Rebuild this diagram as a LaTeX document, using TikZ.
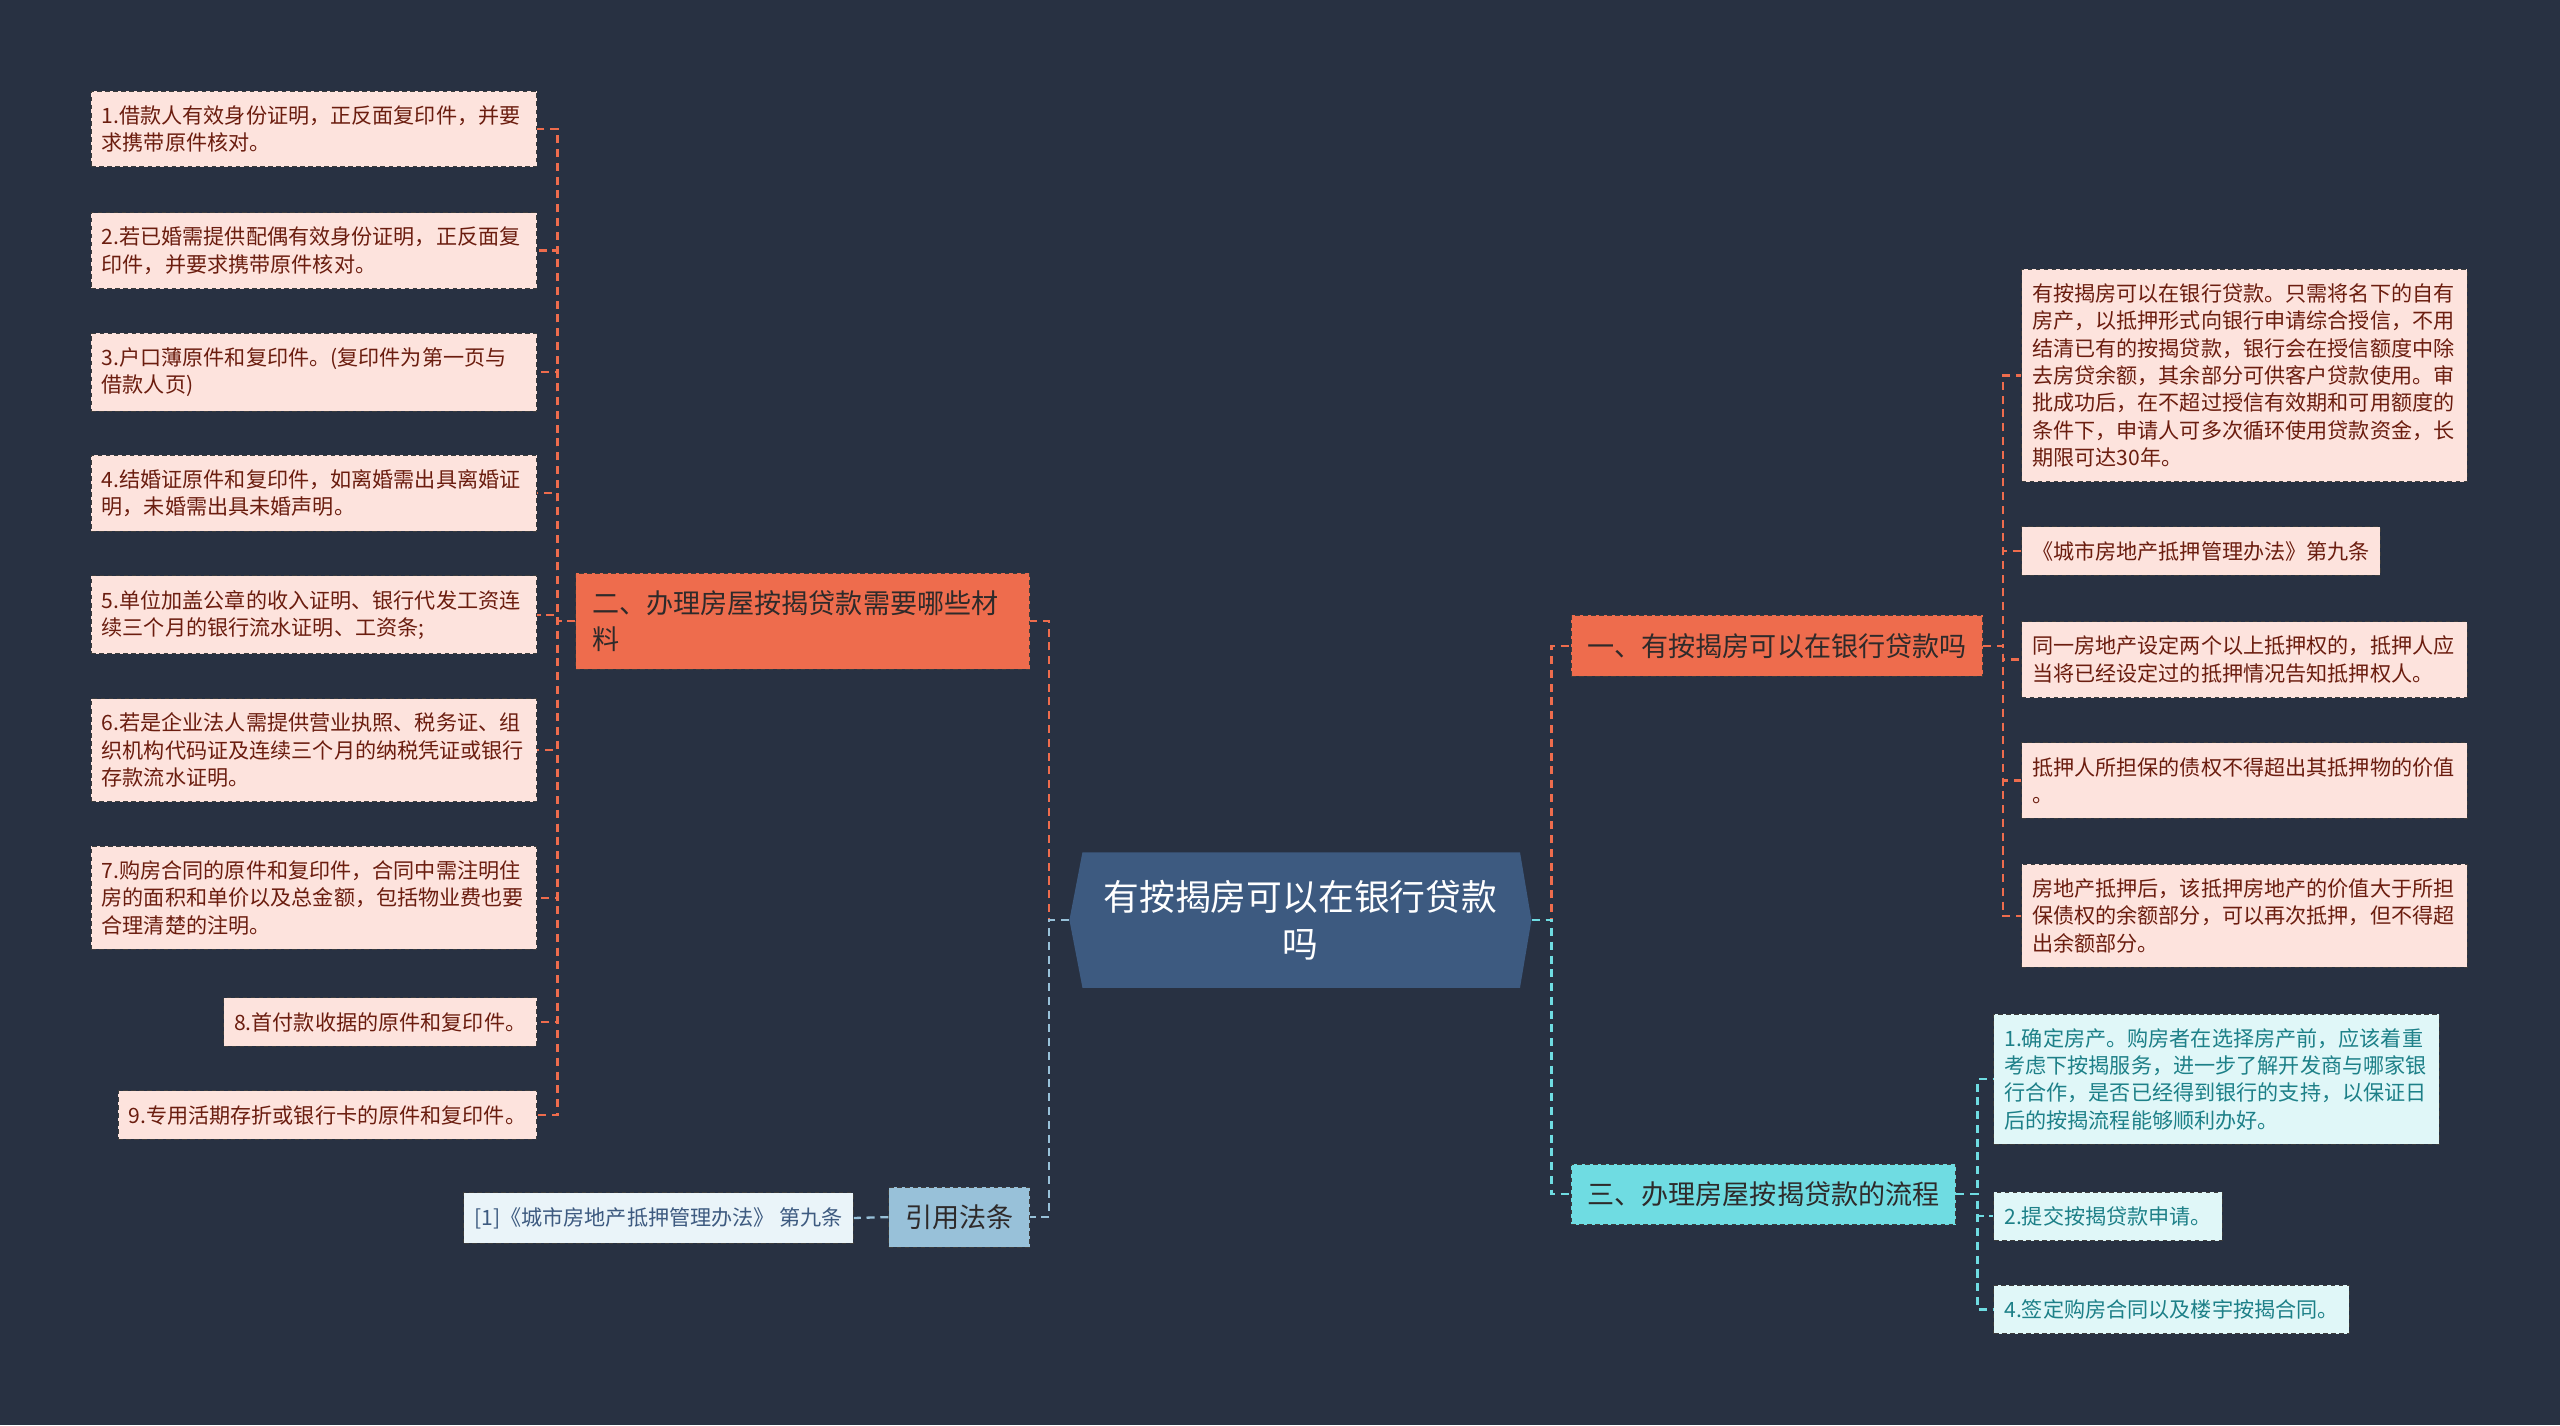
\documentclass[tikz,border=0pt]{standalone}
\usepackage{fontspec}
\newfontfamily\cjk{Noto Sans CJK SC}
\definecolor{bgcol}{HTML}{283142}
\definecolor{rootfill}{HTML}{3D5A80}
\definecolor{orangefill}{HTML}{EE6C4D}
\definecolor{orangepale}{HTML}{FDE3DD}
\definecolor{orangeink}{HTML}{6B1D0F}
\definecolor{bluefill}{HTML}{98C1D9}
\definecolor{bluepale}{HTML}{EAF4F9}
\definecolor{blueink}{HTML}{3D5A80}
\definecolor{cyanfill}{HTML}{6FDCE2}
\definecolor{cyanpale}{HTML}{E0F7F8}
\definecolor{cyanink}{HTML}{1D8088}
\definecolor{darkink}{HTML}{2E2A2A}
\definecolor{boxline}{HTML}{3C3C3C}
\begin{document}
\begin{tikzpicture}[x=0.25mm, y=-0.25mm,
    root/.style={text=white, font=\cjk\fontsize{15.6}{20.6}\selectfont, align=center,
        minimum width=70.75mm, minimum height=20.75mm, inner sep=0pt},
    branch/.style={draw=boxline, dash pattern=on 2pt off 1.5pt, text=darkink,
        font=\cjk\fontsize{11.8}{15.6}\selectfont, align=left, inner xsep=2.5mm, inner ysep=2.7mm},
    leaf/.style={draw=boxline, dash pattern=on 2pt off 1.5pt,
        font=\cjk\fontsize{9.2}{11.9}\selectfont, align=left, inner xsep=1.6mm, inner ysep=2.2mm},
    wide/.style={text width=65mm},
    pinkleaf/.style={leaf, fill=orangepale, text=orangeink},
    blueleaf/.style={leaf, fill=bluepale, text=blueink},
    tealleaf/.style={leaf, fill=cyanpale, text=cyanink},
    link/.style={dash pattern=on 3.5pt off 2.5pt, line width=1pt}
]
\fill[bgcol] (0,0) rectangle (1568,873);
\useasboundingbox (0,0) rectangle (1568,873);

% centre
\fill[rootfill] (655,563.5) -- (663,522) -- (931,522) -- (938,563.5) -- (931,605) -- (663,605) -- cycle;
\node[root] (R) at (796.5,563.5) {有按揭房可以在银行贷款\\吗};

% branches
\node[branch, fill=orangefill, text width=64.5mm, anchor=east] (B2) at (631,380.5) {二、办理房屋按揭贷款需要哪些材\\料};
\node[branch, fill=bluefill, anchor=east] (B4) at (631,745.5) {引用法条};
\node[branch, fill=orangefill, anchor=west] (B1) at (962,395.5) {一、有按揭房可以在银行贷款吗};
\node[branch, fill=cyanfill, anchor=west] (B3) at (962,731.5) {三、办理房屋按揭贷款的流程};

% left leaves
\node[pinkleaf, wide, anchor=east] (L1) at (329,79) {1.借款人有效身份证明，正反面复印件，并要\\求携带原件核对。};
\node[pinkleaf, wide, anchor=east] (L2) at (329,153.5) {2.若已婚需提供配偶有效身份证明，正反面复\\印件，并要求携带原件核对。};
\node[pinkleaf, wide, anchor=east] (L3) at (329,228) {3.户口薄原件和复印件。(复印件为第一页与\\借款人页)};
\node[pinkleaf, wide, anchor=east] (L4) at (329,302) {4.结婚证原件和复印件，如离婚需出具离婚证\\明，未婚需出具未婚声明。};
\node[pinkleaf, wide, anchor=east] (L5) at (329,376.5) {5.单位加盖公章的收入证明、银行代发工资连\\续三个月的银行流水证明、工资条;};
\node[pinkleaf, wide, anchor=east] (L6) at (329,459.5) {6.若是企业法人需提供营业执照、税务证、组\\织机构代码证及连续三个月的纳税凭证或银行\\存款流水证明。};
\node[pinkleaf, wide, anchor=east] (L7) at (329,550) {7.购房合同的原件和复印件，合同中需注明住\\房的面积和单价以及总金额，包括物业费也要\\合理清楚的注明。};
\node[pinkleaf, anchor=east] (L8) at (329,626) {8.首付款收据的原件和复印件。};
\node[pinkleaf, anchor=east] (L9) at (329,683) {9.专用活期存折或银行卡的原件和复印件。};
\node[blueleaf, anchor=east] (Q1) at (523,746) {[1]《城市房地产抵押管理办法》 第九条};

% right leaves
\node[pinkleaf, wide, anchor=west] (R1) at (1238,230) {有按揭房可以在银行贷款。只需将名下的自有\\房产，以抵押形式向银行申请综合授信，不用\\结清已有的按揭贷款，银行会在授信额度中除\\去房贷余额，其余部分可供客户贷款使用。审\\批成功后，在不超过授信有效期和可用额度的\\条件下，申请人可多次循环使用贷款资金，长\\期限可达30年。};
\node[pinkleaf, anchor=west] (R2) at (1238,337.5) {《城市房地产抵押管理办法》第九条};
\node[pinkleaf, wide, anchor=west] (R3) at (1238,404) {同一房地产设定两个以上抵押权的，抵押人应\\当将已经设定过的抵押情况告知抵押权人。};
\node[pinkleaf, wide, anchor=west] (R4) at (1238,478) {抵押人所担保的债权不得超出其抵押物的价值\\。};
\node[pinkleaf, wide, anchor=west] (R5) at (1238,561) {房地产抵押后，该抵押房地产的价值大于所担\\保债权的余额部分，可以再次抵押，但不得超\\出余额部分。};
\node[tealleaf, wide, anchor=west] (C1) at (1221,661) {1.确定房产。购房者在选择房产前，应该着重\\考虑下按揭服务，进一步了解开发商与哪家银\\行合作，是否已经得到银行的支持，以保证日\\后的按揭流程能够顺利办好。};
\node[tealleaf, anchor=west] (C2) at (1221,745) {2.提交按揭贷款申请。};
\node[tealleaf, anchor=west] (C4) at (1221,802) {4.签定购房合同以及楼宇按揭合同。};

% centre links
\draw[link, orangefill] (R.west) -- ++(-12,0) |- (B2.east);
\draw[link, orangefill] (R.east) -- ++(12,0) |- (B1.west);
\draw[link, bluefill] (R.west) -- ++(-12,0) |- (B4.east);
\draw[link, cyanfill] (R.east) -- ++(12,0) |- (B3.west);

% left links
\draw[link, orangefill] (B2.west) -- ++(-11,0) |- (L1.east);
\draw[link, orangefill] (B2.west) -- ++(-11,0) |- (L2.east);
\draw[link, orangefill] (B2.west) -- ++(-11,0) |- (L3.east);
\draw[link, orangefill] (B2.west) -- ++(-11,0) |- (L4.east);
\draw[link, orangefill] (B2.west) -- ++(-11,0) |- (L5.east);
\draw[link, orangefill] (B2.west) -- ++(-11,0) |- (L6.east);
\draw[link, orangefill] (B2.west) -- ++(-11,0) |- (L7.east);
\draw[link, orangefill] (B2.west) -- ++(-11,0) |- (L8.east);
\draw[link, orangefill] (B2.west) -- ++(-11,0) |- (L9.east);
\draw[link, bluefill] (B4.west) -- (Q1.east);

% right links
\draw[link, orangefill] (B1.east) -- ++(12,0) |- (R1.west);
\draw[link, orangefill] (B1.east) -- ++(12,0) |- (R2.west);
\draw[link, orangefill] (B1.east) -- ++(12,0) |- (R3.west);
\draw[link, orangefill] (B1.east) -- ++(12,0) |- (R4.west);
\draw[link, orangefill] (B1.east) -- ++(12,0) |- (R5.west);
\draw[link, cyanfill] (B3.east) -- ++(13,0) |- (C1.west);
\draw[link, cyanfill] (B3.east) -- ++(13,0) |- (C2.west);
\draw[link, cyanfill] (B3.east) -- ++(13,0) |- (C4.west);
\end{tikzpicture}
\end{document}
